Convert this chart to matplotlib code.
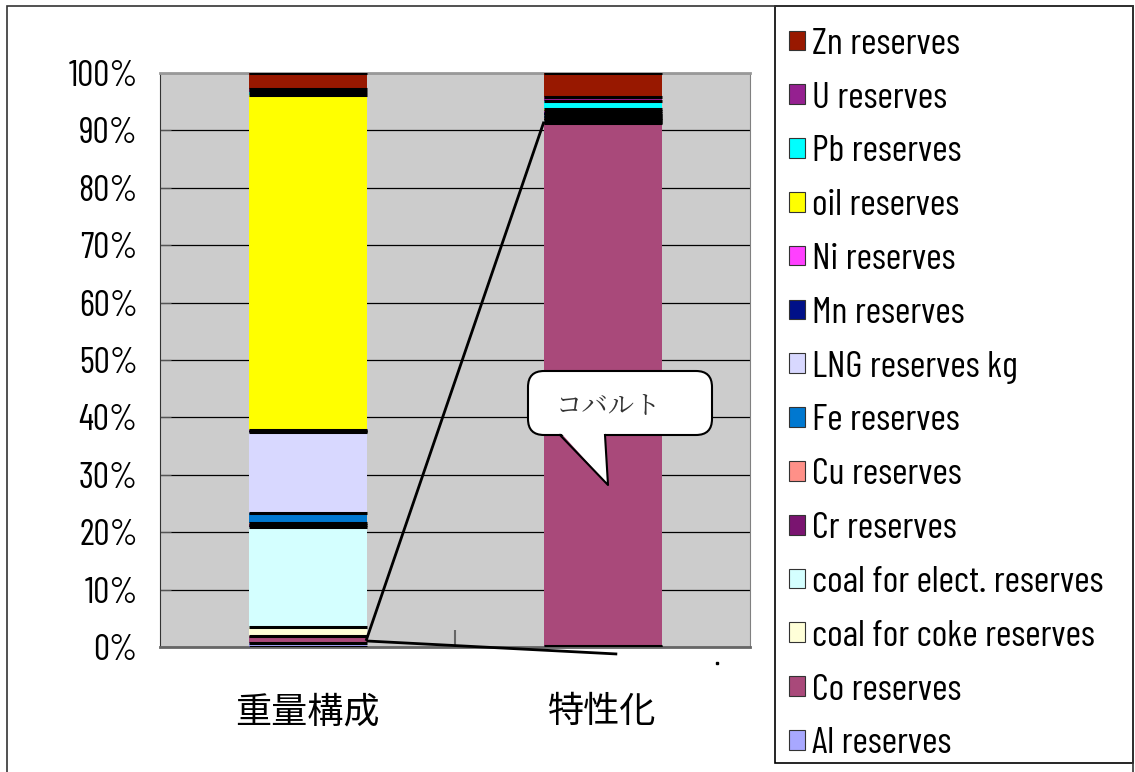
import matplotlib
matplotlib.use('Agg')
from matplotlib import pyplot as plt
from matplotlib import font_manager
from matplotlib.patches import Patch, FancyBboxPatch, Polygon, Rectangle
from matplotlib.lines import Line2D
import numpy as np

# categories and stacked series (bottom of the stack first)
categories = ['重量構成', '特性化']
series_names = ['Al reserves', 'Co reserves', 'coal for coke reserves',
                'coal for elect. reserves', 'Cr reserves', 'Cu reserves',
                'Fe reserves', 'LNG reserves kg', 'Mn reserves', 'Ni reserves',
                'oil reserves', 'Pb reserves', 'U reserves', 'Zn reserves']
weight_share = [0.78, 1.05, 1.57, 17.51, 0.34, 0.27, 1.91, 13.94, 0.26, 0.26,
                58.28, 0.52, 0.52, 2.79]
char_share = [0.10, 91.20, 0.15, 0.30, 0.25, 0.20, 0.30, 0.10, 0.40, 0.35,
              0.30, 1.48, 0.70, 4.17]
series_colors = ['#A8A8FF', '#A9497A', '#FFFFD8', '#D4FFFF', '#7A1470', '#FF9088',
                 '#0078D0', '#D8D8FF', '#001088', '#FF40FF', '#FFFF00', '#00FFFF',
                 '#952090', '#981800']
ytick_values = list(range(0, 101, 10))
ytick_labels = ['%d%%' % v for v in ytick_values]
callout_text = 'コバルト'

narrow = ['Barlow Condensed', 'Archivo Narrow', 'Liberation Sans', 'DejaVu Sans']
cjk = ['Noto Sans CJK JP', 'DejaVu Sans']
mincho = ['Noto Serif CJK JP', 'Noto Sans CJK JP', 'DejaVu Sans']

W, H = 1135, 772
fig = plt.figure(figsize=(W / 100, H / 100), dpi=100)
ax = fig.add_axes([160 / W, 125 / H, 590 / W, 574 / H])
ax.set_facecolor('#CCCCCC')

x = np.arange(len(categories))
data = np.array([weight_share, char_share]).T
bottom = np.zeros(len(categories))
for name, vals, col in zip(series_names, data, series_colors):
    ax.bar(x, vals, width=0.4, bottom=bottom, color=col, linewidth=0, zorder=3)
    bottom += vals

# black separators between stacked segments
cum = np.vstack([np.zeros(len(categories)), np.cumsum(data, axis=0)])
for i in range(len(categories)):
    ax.hlines(cum[:, i], x[i] - 0.2, x[i] + 0.2, colors='black', lw=2.2, zorder=4)

ax.set_xlim(-0.5, 1.5)
ax.set_ylim(0, 100)
ax.set_yticks(ytick_values)
ax.set_yticklabels(ytick_labels, fontfamily=narrow, fontsize=26)
ax.yaxis.grid(True, color='black', lw=0.9)
ax.set_axisbelow(True)
ax.tick_params(axis='y', direction='in', length=8, color='#555555', pad=16)

ax.set_xticks(x)
ax.set_xticklabels(categories, fontfamily=cjk, fontsize=26)
ax.tick_params(axis='x', which='major', length=0, pad=34)
ax.set_xticks([0.5], minor=True)
ax.tick_params(axis='x', which='minor', direction='in', length=12, width=1.5, color='#666666')

ax.spines['left'].set_color('#333333')
ax.spines['bottom'].set_color('#666666')
ax.spines['bottom'].set_linewidth(2)
ax.spines['top'].set_color('#999999')
ax.spines['top'].set_linewidth(2)
ax.spines['right'].set_color('#808080')

# lines linking the tiny cobalt slice to the characterised bar
ax.plot([0.2, 0.8], [1.3, cum[2, 1]], color='black', lw=2, clip_on=False, zorder=6)
ax.plot([0.2, 1.05], [1.05, -1.22], color='black', lw=2, clip_on=False, zorder=6,
        solid_capstyle='butt')
ax.plot([1.388], [-2.8], 's', color='black', ms=2, clip_on=False)

# speech-bubble callout (figure inches)
tr = fig.dpi_scale_trans
box = FancyBboxPatch((5.28, 3.37), 1.84, 0.64, boxstyle='round,pad=0,rounding_size=0.16',
                     fc='white', ec='black', lw=1.5, transform=tr, zorder=7)
fig.add_artist(box)
tail = Polygon([(5.60, 3.40), (6.08, 2.87), (6.05, 3.40)], closed=True, fc='white',
               ec='none', transform=tr, zorder=8)
fig.add_artist(tail)
fig.add_artist(Line2D([5.60, 6.08, 6.05], [3.37, 2.87, 3.37], color='black', lw=1.5,
                      transform=tr, zorder=9))
fig.text(6.08, 3.65, callout_text, transform=tr, ha='center', va='center',
         fontfamily=mincho, fontsize=19, color='#333333', zorder=10)

# legend, top entry is the top of the stack; frame drawn separately
handles = [Patch(fc=c, ec='#333333', lw=0.8) for c in series_colors[::-1]]
leg = fig.legend(handles, series_names[::-1], loc='upper left',
                 bbox_to_anchor=(767 / W, 1 - 6 / H, (1133 - 767) / W, 0),
                 mode='expand', prop=font_manager.FontProperties(family=narrow, size=27),
                 handlelength=0.43, handleheight=0.43, handletextpad=0.2,
                 borderpad=0.58, labelspacing=0.555, borderaxespad=0,
                 frameon=False)
fig.add_artist(Rectangle((775 / W, 1 - 763 / H), (1133 - 775) / W, (763 - 6) / H,
                         fill=False, ec='black', lw=1.2, transform=fig.transFigure))

# outer chart frame (cropped at the bottom)
fig.add_artist(Rectangle((7 / W, -0.1), (1133 - 7) / W, 1.1 - 6 / H, fill=False,
                         ec='#333333', lw=1.2, transform=fig.transFigure))

fig.savefig('out.png', dpi=100)
